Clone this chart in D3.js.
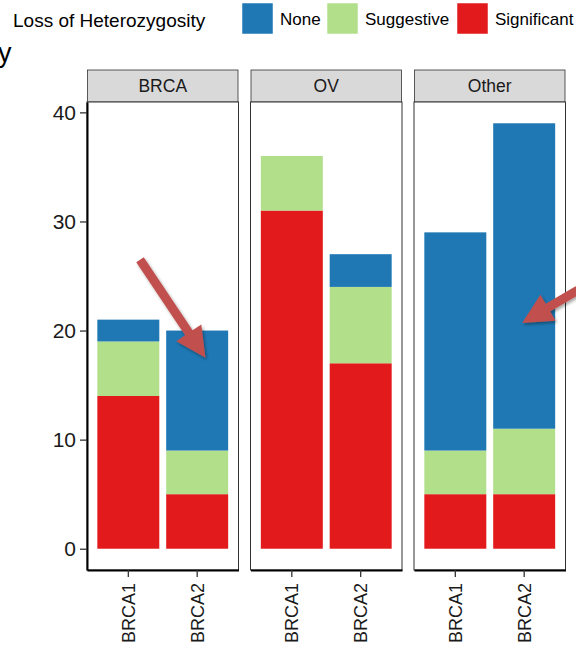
<!DOCTYPE html>
<html><head><meta charset="utf-8">
<script src="https://cdn.jsdelivr.net/npm/d3@7"></script>
<style>body{margin:0;background:#fff}svg{display:block;font-family:"Liberation Sans",Arial,Helvetica,sans-serif}</style>
</head><body>
<script>
const facets = ["BRCA", "OV", "Other"];
const genes = ["BRCA1", "BRCA2"];
const levels = ["Significant", "Suggestive", "None"];
const legendOrder = ["None", "Suggestive", "Significant"];
const colors = {None: "#1f78b4", Suggestive: "#b2df8a", Significant: "#e31a1c"};
// values per facet, gene order BRCA1, BRCA2
const significant = {BRCA: [14, 5], OV: [31, 17], Other: [5, 5]};
const suggestive  = {BRCA: [5, 4],  OV: [5, 7],   Other: [4, 6]};
const none        = {BRCA: [2, 11], OV: [0, 3],   Other: [20, 28]};
const yTicks = [0, 10, 20, 30, 40];
// annotation arrows: facet, from (category position, value) to (category position, value)
const arrows = [
  {facet: "BRCA", x0: 0.17, y0: 26.5, x1: 1.12, y1: 17.5},
  {facet: "Other", x0: 1.78, y0: 23.7, x1: 0.97, y1: 20.7}
];

const W = 576, H = 646;
const svg = d3.select("body").append("svg").attr("width", W).attr("height", H);
const defs = svg.append("defs");
const f = defs.append("filter").attr("id","sh").attr("x","-20%").attr("y","-20%").attr("width","140%").attr("height","140%");
f.append("feDropShadow").attr("dx",1.5).attr("dy",2).attr("stdDeviation",1.5).attr("flood-color","#000").attr("flood-opacity",0.35);

const panelTop = 102, panelBottom = 570, stripTop = 70;
const panelW = 151.5, gap = 12, left0 = 87;
const y = d3.scaleLinear().domain([-1.95, 40.95]).range([panelBottom, panelTop]);
const x = d3.scaleBand().domain(genes).range([0, panelW]).paddingInner(0.1).paddingOuter(0.15);
const panelX = d3.scaleBand().domain(facets).range([left0, left0 + 3*panelW + 2*gap]).paddingInner(gap/(panelW+gap));
const step = x.step();
const catPos = c => x("BRCA1") + x.bandwidth()/2 + c*step;

const stack = d3.stack().keys(levels);
facets.forEach(fc => {
  const px = panelX(fc);
  const g = svg.append("g").attr("transform", `translate(${px},0)`);
  g.append("rect").attr("x",0.5).attr("y",stripTop).attr("width",panelW-1).attr("height",panelTop-stripTop)
    .attr("fill","#d9d9d9").attr("stroke","#333").attr("stroke-width",0.8);
  g.append("text").attr("x",panelW/2).attr("y",(stripTop+panelTop)/2).attr("dy","0.36em")
    .attr("text-anchor","middle").attr("font-size",17.5).attr("fill","#1a1a1a").text(fc);
  g.append("rect").attr("x",0).attr("y",panelTop).attr("width",panelW).attr("height",panelBottom-panelTop)
    .attr("fill","#fff").attr("stroke","#333").attr("stroke-width",1);
  const rows = genes.map((gn,i) => ({gene: gn, Significant: significant[fc][i], Suggestive: suggestive[fc][i], None: none[fc][i]}));
  const series = stack(rows);
  series.forEach(s => {
    g.selectAll(null).data(s).enter().append("rect")
      .attr("x", d => x(d.data.gene)).attr("width", x.bandwidth())
      .attr("y", d => y(d[1])).attr("height", d => Math.max(0, y(d[0]) - y(d[1])))
      .attr("fill", colors[s.key]);
  });
  const ax = g.append("g").attr("transform",`translate(0,${panelBottom})`)
    .call(d3.axisBottom(x).tickSize(7).tickSizeOuter(0).tickPadding(6));
  ax.attr("font-size", null).attr("font-family", null);
  ax.select(".domain").attr("stroke","#000").attr("stroke-width",2);
  ax.selectAll(".tick line").attr("stroke","#333").attr("stroke-width",1.3);
  ax.selectAll(".tick text").style("font-size","18px").attr("fill","#1a1a1a")
    .attr("transform","rotate(-90)").attr("text-anchor","end").attr("x",-13).attr("y",0).attr("dy","0.36em");
});
const yax = svg.append("g").attr("transform",`translate(${left0},0)`)
  .call(d3.axisLeft(y).tickValues(yTicks).tickSize(7).tickSizeOuter(0).tickPadding(4));
yax.attr("font-size", null).attr("font-family", null);
yax.select(".domain").attr("stroke","#000").attr("stroke-width",2);
yax.selectAll(".tick line").attr("stroke","#333").attr("stroke-width",1.3);
yax.selectAll(".tick text").style("font-size","21px").attr("fill","#1a1a1a");

// partial y title (cropped in the reference)
svg.append("text").attr("x",-2).attr("y",62).attr("font-size",27).attr("fill","#000").text("y");

const lg = svg.append("g");
lg.append("text").attr("x",13).attr("y",27).attr("font-size",19).attr("fill","#000").text("Loss of Heterozygosity");
const keyX = {None: 242, Suggestive: 327, Significant: 457};
legendOrder.forEach(k => {
  lg.append("rect").attr("x",keyX[k]).attr("y",3).attr("width",31).attr("height",31).attr("fill",colors[k])
    .attr("stroke","#fff").attr("stroke-width",0.5);
  lg.append("text").attr("x",keyX[k]+38).attr("y",25).attr("font-size",17).attr("fill","#000").text(k);
});

function arrowPath(x0,y0,x1,y1){
  const dx=x1-x0, dy=y1-y0, L=Math.hypot(dx,dy), ux=dx/L, uy=dy/L, nx=-uy, ny=ux;
  const sw=4.5, hl=30, hw=15;
  const bx=x1-ux*hl, by=y1-uy*hl;
  const pts=[[x0+nx*sw,y0+ny*sw],[bx+nx*sw,by+ny*sw],[bx+nx*hw,by+ny*hw],[x1,y1],[bx-nx*hw,by-ny*hw],[bx-nx*sw,by-ny*sw],[x0-nx*sw,y0-ny*sw]];
  return "M"+pts.map(p=>p.join(",")).join("L")+"Z";
}
arrows.forEach(a => {
  const px = panelX(a.facet);
  svg.append("path").attr("d", arrowPath(px+catPos(a.x0), y(a.y0), px+catPos(a.x1), y(a.y1)))
    .attr("fill","#c0504d").attr("filter","url(#sh)");
});
</script>
</body></html>
